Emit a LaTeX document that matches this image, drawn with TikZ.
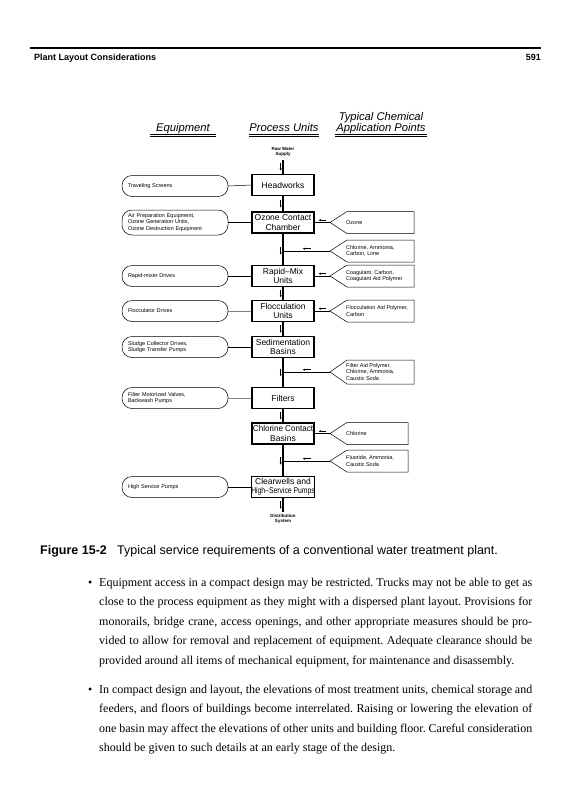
\documentclass[tikz,border=0pt]{standalone}
\usepackage{fontspec}
\setmainfont{Liberation Serif}
\setsansfont{Liberation Sans}
\usepackage{graphicx}
\usetikzlibrary{arrows.meta,decorations.markings}
\newcommand\chembox[5]{%
  \draw[chemline] (330,#2) -- (347,#2-#3) -- (#5,#2-#3) -- (#5,#2+#3) -- (347,#2+#3) -- cycle;
  \coordinate (#1) at (330,#2);
  \node[chemtext, anchor=west] (#1t) at (346,#2) {#4};}
\newcommand\jline[1]{\hbox to 433pt{#1}}
\frenchspacing
\begin{document}
\begin{tikzpicture}[x=1pt,y=-1pt,
  proc/.style={draw, line width=1.4pt, fill=white, minimum width=62pt, minimum height=21pt,
    inner sep=0pt, align=center, font=\sffamily\fontsize{8.5}{9.5}\selectfont},
  equip/.style={draw, line width=0.5pt, rounded corners=10pt, minimum height=21pt,
    inner xsep=6pt, inner ysep=0pt, text width=94pt, align=left,
    font=\sffamily\fontsize{5.5}{6.3}\selectfont},
  chemline/.style={line width=0.5pt},
  chemtext/.style={inner sep=0pt, align=left, font=\sffamily\fontsize{5.5}{6.3}\selectfont},
  hd/.style={inner sep=0pt, font=\sffamily\itshape\fontsize{11.2}{12}\selectfont},
  tinytxt/.style={inner sep=0pt, align=center, font=\sffamily\bfseries\fontsize{4.5}{5.3}\selectfont},
  flowtip/.style={line width=0.5pt, -{Latex[length=2.5pt,width=2.2pt]}},
  flow/.style={postaction={decorate}, decoration={markings,
    mark=at position #1 with {\draw[flowtip] (-4pt,-2.3pt) -- (4pt,-2.3pt);}}},
  flow/.default=0.5,
  mainline/.style={line width=1.3pt},
  chemconn/.style={line width=0.7pt},
  eqconn/.style={line width=0.5pt},
  body/.style={inner sep=0pt, anchor=base west, font=\fontsize{12}{19.5}\selectfont}
]
\useasboundingbox (0,0) rectangle (565,800);
\fill[white] (0,0) rectangle (565,800);

% running head
\draw[line width=1.1pt] (30,48) -- (541,48);
\node[anchor=base west, inner sep=0pt, font=\sffamily\bfseries\fontsize{9}{10}\selectfont] (hdr) at (34,60) {Plant Layout Considerations};
\node[anchor=base east, inner sep=0pt, font=\sffamily\bfseries\fontsize{9}{10}\selectfont] (pg) at (541,60) {591};

% column headings
\node[hd, anchor=base] (eqh) at (183,131) {Equipment};
\node[hd, anchor=base] (puh) at (284,131) {Process Units};
\node[hd, anchor=base] (tch1) at (381,120) {Typical Chemical};
\node[hd, anchor=base] (tch2) at (381,131) {Application Points};
\foreach \a/\b in {150/216, 249/319, 335/427}{
  \draw[line width=0.4pt] (\a,134) -- (\b,134);
  \draw[line width=0.4pt] (\a,136) -- (\b,136);}

% process units
\node[tinytxt] (rw) at (283,152) {Raw Water\\Supply};
\coordinate (rws) at (283,160);
\node[proc] (hw) at (283,185) {Headworks};
\node[proc] (oz) at (283,222.5) {Ozone Contact\\Chamber};
\node[proc] (rm) at (283,276) {Rapid--Mix\\Units};
\node[proc] (fl) at (283,311) {Flocculation\\Units};
\node[proc] (sd) at (283,347) {Sedimentation\\Basins};
\node[proc] (ft) at (283,398) {Filters};
\node[proc] (cc) at (283,433.5) {\scalebox{0.95}[1]{Chlorine Contact}\\Basins};
\node[proc] (cw) at (283,487) {Clearwells and\\\scalebox{0.8}[1]{High--Service Pumps}};
\node[tinytxt] (ds) at (283,519) {Distribution\\System};
\coordinate (dse) at (283,512);

\coordinate (j1) at (283,251);
\coordinate (j2) at (283,372);
\coordinate (j3) at (283,461);

\draw[mainline, flow] (rws) -- (hw.north);
\draw[mainline, flow] (hw.south) -- (oz.north);
\draw[mainline, flow=0.55] (oz.south) -- (rm.north);
\draw[mainline, flow] (rm.south) -- (fl.north);
\draw[mainline, flow] (fl.south) -- (sd.north);
\draw[mainline, flow=0.5] (sd.south) -- (ft.north);
\draw[mainline, flow] (ft.south) -- (cc.north);
\draw[mainline, flow=0.52] (cc.south) -- (cw.north);
\draw[mainline, flow] (cw.south) -- (dse);

% equipment
\node[equip] (e1) at (175,186) {Traveling Screens};
\node[equip, minimum height=25pt] (e2) at (175,222.5) {Air Preparation Equipment,\\Ozone Generation Units,\\Ozone Destruction Equipment};
\node[equip] (e3) at (175,276) {Rapid-mixer Drives};
\node[equip] (e4) at (175,311) {Flocculator Drives};
\node[equip] (e5) at (175,347) {Sludge Collector Drives,\\Sludge Transfer Pumps};
\node[equip] (e6) at (175,398) {Filter Motorized Valves,\\Backwash Pumps};
\node[equip] (e7) at (175,487) {High Service Pumps};
\draw[eqconn] (e1.east) -- (hw.west);
\draw[eqconn] (e2.east) -- (oz.west);
\draw[eqconn] (e3.east) -- (rm.west);
\draw[eqconn, gray] (e4.east) -- (fl.west);
\draw[eqconn] (e5.east) -- (sd.west);
\draw[eqconn, gray] (e6.east) -- (ft.west);
\draw[eqconn] (e7.east) -- (cw.west);

% chemical application points
\chembox{c1}{222.5}{11}{Ozone}{414}
\chembox{c2}{251}{11}{Chlorine, Ammonia,\\Carbon, Lime}{414}
\chembox{c3}{276}{11}{Coagulant, Carbon,\\Coagulant Aid Polymer}{414}
\chembox{c4}{311}{11}{Flocculation Aid Polymer,\\Carbon}{414}
\chembox{c5}{372}{12}{Filter Aid Polymer,\\Chlorine, Ammonia,\\Caustic Soda}{414}
\chembox{c6}{433.5}{11}{Chlorine}{408}
\chembox{c7}{461}{11}{Fluoride, Ammonia,\\Caustic Soda}{408}
\draw[chemconn, flow] (c1) -- (oz.east);
\draw[chemconn, flow] (c2) -- (j1);
\draw[chemconn, flow] (c3) -- (rm.east);
\draw[chemconn, flow] (c4) -- (fl.east);
\draw[chemconn, flow] (c5) -- (j2);
\draw[chemconn, flow] (c6) -- (cc.east);
\draw[chemconn, flow] (c7) -- (j3);

% caption
\node[anchor=base west, inner sep=0pt, font=\sffamily\bfseries\fontsize{12.5}{14}\selectfont] (figlab) at (40,554) {Figure 15-2};
\node[anchor=base west, inner sep=0pt, font=\sffamily\fontsize{12.5}{14}\selectfont] (figcap) at (117,554) {Typical service requirements of a conventional water treatment plant.};

% body text
\node[body] (b1) at (88,586) {•};
\node[body] (l1) at (99,586) {\jline{Equipment access in a compact design may be restricted. Trucks may not be able to get as}};
\node[body] (l2) at (99,605.5) {\jline{close to the process equipment as they might with a dispersed plant layout. Provisions for}};
\node[body] (l3) at (99,625) {\jline{monorails, bridge crane, access openings, and other appropriate measures should be pro-}};
\node[body] (l4) at (99,644.5) {\jline{vided to allow for removal and replacement of equipment. Adequate clearance should be}};
\node[body] (l5) at (99,664) {provided around all items of mechanical equipment, for maintenance and disassembly.};
\node[body] (b2) at (88,693) {•};
\node[body] (l6) at (99,693) {\jline{In compact design and layout, the elevations of most treatment units, chemical storage and}};
\node[body] (l7) at (99,712.5) {\jline{feeders, and floors of buildings become interrelated. Raising or lowering the elevation of}};
\node[body] (l8) at (99,732) {\jline{one basin may affect the elevations of other units and building floor. Careful consideration}};
\node[body] (l9) at (99,751.5) {should be given to such details at an early stage of the design.};
\end{tikzpicture}
\end{document}
